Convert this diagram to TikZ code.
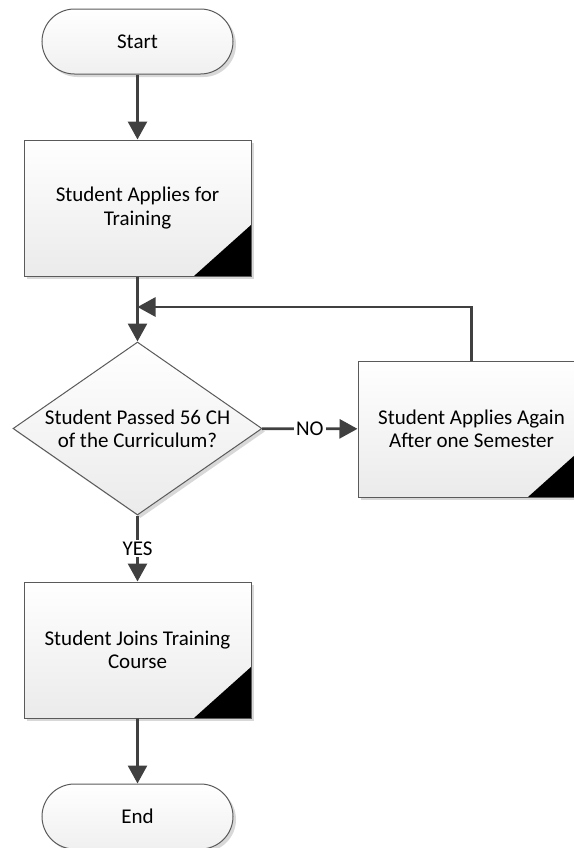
\documentclass[tikz,border=0pt]{standalone}
\usepackage{fontspec}
\setmainfont{Carlito}
\usetikzlibrary{shapes.misc,shapes.geometric,arrows.meta,shadows}
\definecolor{linegray}{HTML}{404040}
\definecolor{edgegray}{HTML}{5A5A5A}
\tikzstyle{shade}=[drop shadow={shadow xshift=1.5pt, shadow yshift=-1.5pt, fill=black!30, opacity=0.5}]
\tikzstyle{terminal}=[rounded rectangle, draw=edgegray, line width=0.5pt, top color=white, bottom color=black!6, shade, minimum width=95.5pt, minimum height=32.5pt, inner sep=0pt]
\tikzstyle{process}=[rectangle, draw=edgegray, line width=0.5pt, top color=white, bottom color=black!8, shade, minimum width=113.5pt, minimum height=68pt, inner sep=0pt, align=center,
  path picture={\fill[black] (path picture bounding box.south east) -- ++(-28.5pt,0pt) -- ++(28.5pt,25.5pt) -- cycle;}]
\tikzstyle{decision}=[diamond, draw=edgegray, line width=0.5pt, top color=white, bottom color=black!8, shade, aspect=1.44, minimum width=124.5pt, minimum height=86.5pt, inner sep=-1pt, align=center]
\tikzstyle{flow}=[draw=linegray, line width=1.4pt, -{Triangle[width=9.5pt,length=9pt]}]
\tikzstyle{answer}=[fill=white, inner sep=1pt, text=black]

\begin{document}
\begin{tikzpicture}[x=0.5pt, y=-0.5pt, font=\fontsize{10.5}{11.7}\selectfont]
\useasboundingbox (0,0) rectangle (574,848);
% Steps
    \node[terminal] (start) at (137.5,41.5) {Start};
    \node[process] (apply) at (137.5,208) {Student Applies for\\Training};
    \node[decision] (check) at (137.5,428.5) {Student Passed 56 CH\\of the Curriculum?};
    \node[process] (again) at (471.5,429) {Student Applies Again\\After one Semester};
    \node[process] (join) at (137.5,650) {Student Joins Training\\Course};
    \node[terminal] (finish) at (137.5,816.5) {End};
    \coordinate (merge) at (137.5,307);
% Arrows
    \draw[flow] (start) -- (apply);
    \draw[flow] (apply) -- (check);
    \draw[flow] (again.north) |- (merge);
    \draw[flow] (check) -- node[answer] {NO} (again);
    \draw[flow] (check) -- node[answer] {YES} (join);
    \draw[flow] (join) -- (finish);
\end{tikzpicture}
\end{document}
